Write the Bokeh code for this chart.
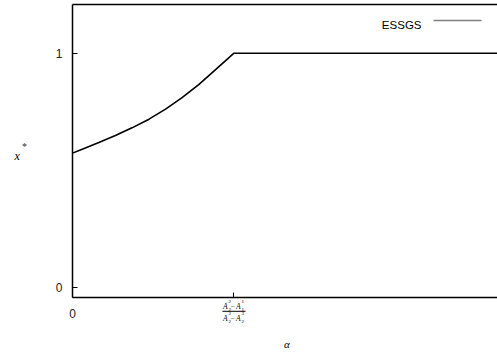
from bokeh.plotting import figure
from bokeh.models import Range1d, FixedTicker, LinearAxis, Label, Arrow
from bokeh.embed import file_html
from bokeh.resources import INLINE

# ---- data ----
alpha = [0.0, 0.023, 0.062, 0.101, 0.140, 0.180, 0.219, 0.257, 0.297, 0.336, 0.380, 1.0]
x_star = [0.573, 0.590, 0.618, 0.648, 0.681, 0.718, 0.761, 0.809, 0.866, 0.929, 1.0, 1.0]
threshold = 0.380
x_ticks = [0, threshold]
y_ticks = [0, 1]
x_tick_labels = {0: "0"}
y_tick_labels = {0: "0", 1: "1"}
frac_top = [("A", "2", "2"), ("A", "1", "1")]      # A_2^2 - A_1^1
frac_bottom = [("A", "2", "2"), ("A", "3", "2")]   # A_2^2 - A_2^3
series_name = "ESSGS"
x_label = "\u03b1"
y_label = "x"

# ---- layout ----
W, H = 497, 354
X_AXIS_AT = -0.044     # y value where the x axis is drawn (bottom of plot box)
Y_AXIS_AT = 0.0        # x value where the y axis is drawn
BOX_TOP = 1.208
x_range = Range1d(-0.1694, 1.0)
y_range = Range1d(-0.2876, 1.2252)

p = figure(width=W, height=H, min_border=0, min_border_left=0, min_border_right=0,
           min_border_top=0, min_border_bottom=0,
           x_range=x_range, y_range=y_range,
           output_backend="svg", toolbar_location=None)
p.outline_line_color = None
p.grid.visible = False
p.background_fill_color = "white"
p.border_fill_color = "white"

p.line(alpha, x_star, line_color="black", line_width=1.6)

p.xaxis.fixed_location = X_AXIS_AT
p.xaxis.bounds = (0, 1.0)
p.yaxis.fixed_location = Y_AXIS_AT
p.yaxis.bounds = (X_AXIS_AT, BOX_TOP)

for ax in (p.xaxis[0], p.yaxis[0]):
    ax.major_tick_in = 5
    ax.major_tick_out = 0
    ax.minor_tick_line_color = None
    ax.axis_line_width = 1.5
    ax.axis_line_color = "black"
    ax.major_tick_line_color = "black"
    ax.major_label_text_font = "Liberation Sans"
    ax.major_label_text_font_size = "12px"
    ax.major_label_text_color = "#222222"

p.xaxis.ticker = FixedTicker(ticks=x_ticks)
p.xaxis.major_label_overrides = {t: x_tick_labels.get(t, " ") for t in x_ticks}
p.xaxis.major_label_standoff = 10
p.yaxis.ticker = FixedTicker(ticks=y_ticks)
p.yaxis.major_label_overrides = {t: y_tick_labels[t] for t in y_ticks}
p.yaxis.major_label_standoff = 10

top = LinearAxis(ticker=FixedTicker(ticks=[]), major_label_text_font_size="0px",
                 major_tick_in=0, major_tick_out=0, minor_tick_in=0, minor_tick_out=0,
                 major_label_standoff=0, axis_line_width=1.5, axis_line_color="black",
                 fixed_location=BOX_TOP, bounds=(0, 1.0))
p.add_layout(top, "above")

serif = dict(text_font="Liberation Serif", text_font_style="italic", text_color="black",
             text_baseline="alphabetic")

# axis titles (screen units measured from the bottom-left of the canvas)
p.add_layout(Label(x=14, y=H - 155, x_units="screen", y_units="screen", text=y_label,
                   text_font_size="12px", **serif))
p.add_layout(Label(x=21.5, y=H - 146, x_units="screen", y_units="screen", text="*",
                   text_font_size="10px", text_font="Liberation Serif", text_color="#333333",
                   text_baseline="alphabetic"))
p.add_layout(Label(x=286.5, y=H - 343, x_units="screen", y_units="screen", text=x_label,
                   text_font_size="11px", text_align="center", **serif))

# fraction tick label under the threshold tick
AX_SY = H - 297  # screen height of the x axis line


def piece(txt, dx, dy, size, italic=True):
    kw = dict(serif)
    if not italic:
        kw["text_font_style"] = "normal"
    p.add_layout(Label(x=threshold, x_units="data", y=AX_SY - dy, y_units="screen",
                       x_offset=dx, text=txt, text_font_size=size, text_align="left", **kw))


for terms, (dy_base, dy_sup, dy_sub) in [(frac_top, (9, 4.2, 12.3)),
                                         (frac_bottom, (20.7, 16.4, 24))]:
    for (base, sup, sub), dx in zip(terms, (-11, 2)):
        piece(base, dx, dy_base, "7.5px")
        piece(sup, dx + 5.6, dy_sup, "5px", italic=False)
        piece(sub, dx + 5.6, dy_sub, "5px", italic=False)
    piece("\u2013", -3.2, dy_base - 0.5, "7px", italic=False)

# fraction bar
bar_half = 11.5 / (W - 72) * (x_range.end - 0)
p.add_layout(Arrow(end=None, x_start=72 + (threshold - bar_half) * (W - 72), y_start=AX_SY - 13.8,
                   x_end=72 + (threshold + bar_half) * (W - 72), y_end=AX_SY - 13.8,
                   start_units="screen", end_units="screen", line_color="#333333",
                   line_width=1.2))

# legend (text left of sample line)
p.add_layout(Label(x=421, y=H - 24, x_units="screen", y_units="screen", text=series_name,
                   text_align="right", text_baseline="alphabetic",
                   text_font="Liberation Sans", text_font_size="11.5px",
                   text_color="black"))
p.add_layout(Arrow(end=None, x_start=433, y_start=H - 20, x_end=481, y_end=H - 20,
                   start_units="screen", end_units="screen", line_color="#808080",
                   line_width=1.5))

open("out.html", "w").write(file_html(p, INLINE))
